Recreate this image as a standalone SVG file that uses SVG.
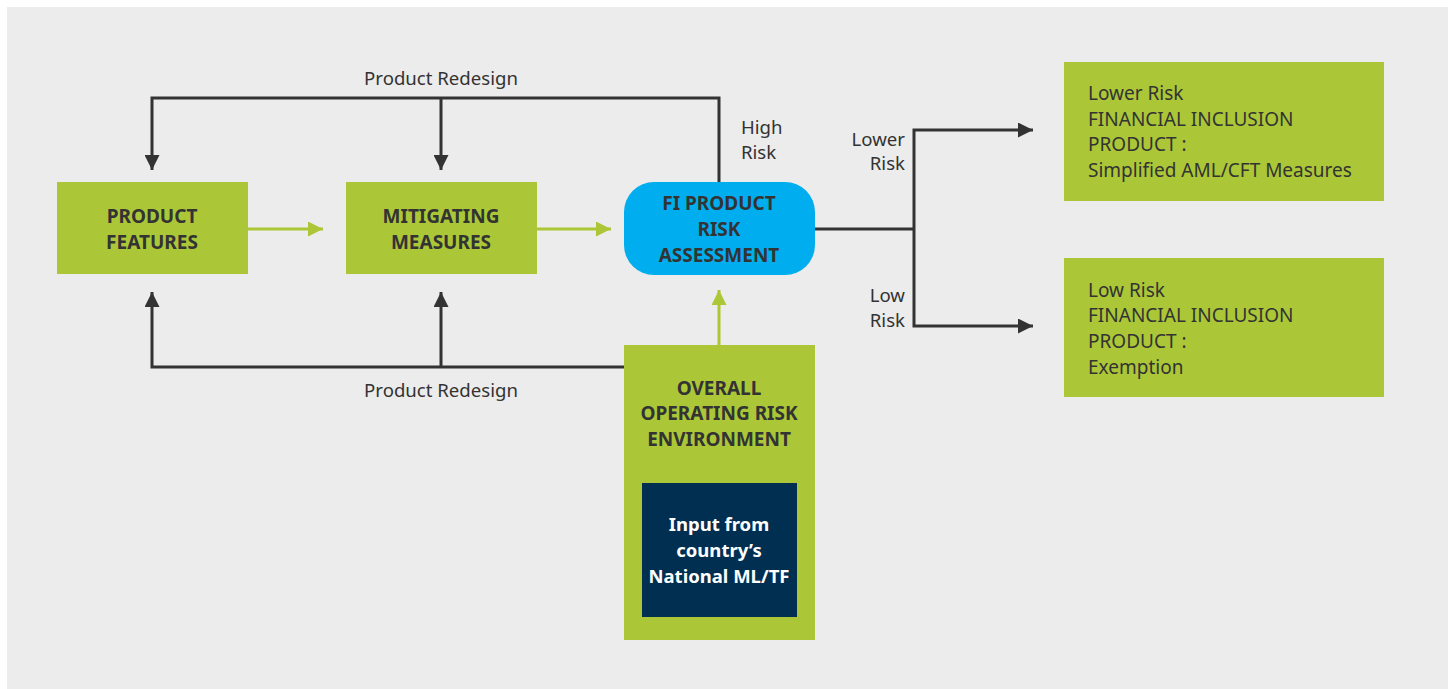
<svg xmlns="http://www.w3.org/2000/svg" width="1448" height="689" viewBox="0 0 1448 689">
<defs>
<style>
.bg{fill:#ececec}
.g{fill:#abc737}
.lbl{font-family:"Noto Sans","Liberation Sans",sans-serif;font-size:18.6px;fill:#333}
.box{font-family:"Noto Sans","Liberation Sans",sans-serif;font-size:19px;fill:#333}
.bold{font-family:"Noto Sans","Liberation Sans",sans-serif;font-size:19px;font-weight:700;fill:#333;text-anchor:middle}
.wbold{font-family:"Noto Sans","Liberation Sans",sans-serif;font-size:18.5px;font-weight:700;fill:#fff;text-anchor:middle}
.dk{fill:none;stroke:#333;stroke-width:3}
.gl{fill:none;stroke:#abc737;stroke-width:3}
</style>
<marker id="ad" viewBox="0 0 10 10" refX="10" refY="5" markerWidth="6" markerHeight="5" markerUnits="strokeWidth" orient="auto"><path d="M0,0L10,5L0,10z" fill="#333"/></marker>
<marker id="ag" viewBox="0 0 10 10" refX="10" refY="5" markerWidth="6" markerHeight="5" markerUnits="strokeWidth" orient="auto"><path d="M0,0L10,5L0,10z" fill="#abc737"/></marker>
</defs>
<rect class="bg" x="7" y="7" width="1441" height="682"/>
<g id="connectors">
<path class="dk" d="M719,182V98H152V170" marker-end="url(#ad)"/>
<path class="dk" d="M441,98V170" marker-end="url(#ad)"/>
<path class="dk" d="M624,367H152V292" marker-end="url(#ad)"/>
<path class="dk" d="M441,367V292" marker-end="url(#ad)"/>
<path class="dk" d="M815,229H914"/>
<path class="dk" d="M914,229V130H1033" marker-end="url(#ad)"/>
<path class="dk" d="M914,229V326H1033" marker-end="url(#ad)"/>
<path class="gl" d="M248,229H323" marker-end="url(#ag)"/>
<path class="gl" d="M537,229H611" marker-end="url(#ag)"/>
<path class="gl" d="M719,345V290" marker-end="url(#ag)"/>
<text class="lbl" x="441" y="85" text-anchor="middle">Product Redesign</text>
<text class="lbl" x="441" y="397" text-anchor="middle">Product Redesign</text>
<text class="lbl" x="741" y="134">High</text>
<text class="lbl" x="741" y="159">Risk</text>
<text class="lbl" x="905" y="146" text-anchor="end">Lower</text>
<text class="lbl" x="905" y="170" text-anchor="end">Risk</text>
<text class="lbl" x="905" y="302" text-anchor="end">Low</text>
<text class="lbl" x="905" y="327" text-anchor="end">Risk</text>
</g>
<g id="product-features">
<rect class="g" x="57" y="182" width="191" height="92"/>
<text class="bold" x="152" y="223">PRODUCT</text>
<text class="bold" x="152" y="249">FEATURES</text>
</g>
<g id="mitigating-measures">
<rect class="g" x="346" y="182" width="191" height="92"/>
<text class="bold" x="441" y="223">MITIGATING</text>
<text class="bold" x="441" y="249">MEASURES</text>
</g>
<g id="fi-risk-assessment">
<rect x="624" y="182" width="191" height="93" rx="30" fill="#00aeef"/>
<text class="bold" x="719" y="210">FI PRODUCT</text>
<text class="bold" x="719" y="236">RISK</text>
<text class="bold" x="719" y="262">ASSESSMENT</text>
</g>
<g id="overall-environment">
<rect class="g" x="624" y="345" width="191" height="295"/>
<text class="bold" x="719" y="395">OVERALL</text>
<text class="bold" x="719" y="420">OPERATING RISK</text>
<text class="bold" x="719" y="446">ENVIRONMENT</text>
</g>
<g id="national-input">
<rect x="642" y="483" width="155" height="134" fill="#002f52"/>
<text class="wbold" x="719" y="531">Input from</text>
<text class="wbold" x="719" y="557">country’s</text>
<text class="wbold" x="719" y="583">National ML/TF</text>
</g>
<g id="lower-risk-product">
<rect class="g" x="1064" y="62" width="320" height="139"/>
<text class="box" x="1088" y="100">Lower Risk</text>
<text class="box" x="1088" y="126">FINANCIAL INCLUSION</text>
<text class="box" x="1088" y="151">PRODUCT :</text>
<text class="box" x="1088" y="177">Simplified AML/CFT Measures</text>
</g>
<g id="low-risk-product">
<rect class="g" x="1064" y="258" width="320" height="139"/>
<text class="box" x="1088" y="297">Low Risk</text>
<text class="box" x="1088" y="322">FINANCIAL INCLUSION</text>
<text class="box" x="1088" y="348">PRODUCT :</text>
<text class="box" x="1088" y="374">Exemption</text>
</g>
</svg>
